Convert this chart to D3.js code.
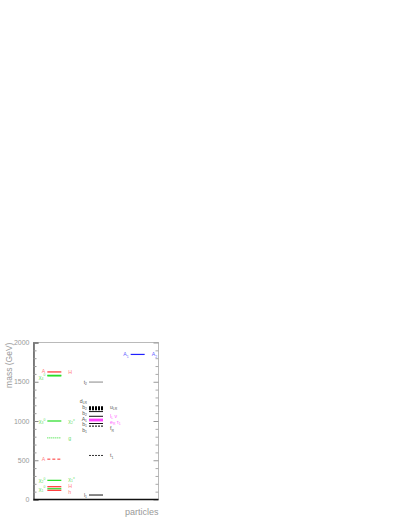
<!DOCTYPE html>
<html>
<head>
<meta charset="utf-8">
<script src="https://cdn.jsdelivr.net/npm/d3@7"></script>
<style>
  body { margin: 0; background: #fff; }
  svg { display: block; font-family: 'Liberation Sans', Arial, sans-serif; }
</style>
</head>
<body>
<div id="app"></div>
<script>
// spectrum columns: 0 = higgs / gauginos, 1 = sfermions, 2 = heavy states
const columns = [0, 0, 0, 0, 0, 0, 0, 0, 0, 0, 1, 1, 1, 1, 1, 1, 1, 1, 1, 1, 1, 2];
const masses = [1625, 1582, 1574, 1000, 785, 514, 244, 163, 137, 117,
  1496, 1175, 1152, 1120, 1060, 1022, 1003, 968, 935, 561, 57, 1848];
const kinds = ['higgs', 'gaugino', 'gaugino', 'gaugino', 'gluino', 'higgsA', 'gaugino', 'higgs', 'gaugino', 'higgs',
  'stop', 'squarkL', 'squarkL', 'squark', 'squark', 'slepton', 'slepton', 'squark', 'squarkR', 'stop1', 'squark', 'heavy'];
const leftLabels = ['A', 'χ_4^0', '', 'χ_3^0', '', 'A', 'χ_2^0', '', 'χ_1^0', '',
  't_2', 'd_LR', 'b_2', 'b_2', 'A_1', '', '', 'b_1', 'b_1', '', 'l_1', 'A_1'];
const rightLabels = ['H', '', '', 'χ_2^±', 'g', '', 'χ_1^±', 'H', '', 'h',
  '', 'u_LR', '', '', '', 'l_L ν', 'e_R τ_1', '', 'f_R', 't_1', '', 'A_2'];
const yTicks = [0, 500, 1000, 1500, 2000];

const width = 400, height = 518;
const frame = { left: 33.5, right: 158.5, top: 342.5, bottom: 499.5 };

const lineColor = {
  higgs: '#ff3030', higgsA: '#ff3030', gaugino: '#22dd22', gluino: '#22dd22',
  stop: '#888888', squarkL: '#000000', squark: '#111111', squarkR: '#000000',
  stop1: '#333333', slepton: '#ff22ff', heavy: '#2020ff'
};
const labelColor = {
  higgs: '#ff8080', higgsA: '#ff8080', gaugino: '#66dd66', gluino: '#66dd66',
  stop: '#555', squarkL: '#555', squark: '#555', squarkR: '#555',
  stop1: '#555', slepton: '#ff66ff', heavy: '#6060ff'
};
const dashOf = { higgsA: '3,2', gluino: '1,1', squarkL: '2,1', squarkR: '2,1', stop1: '2,1' };
const widthOf = { squarkL: 2.2, higgs: 1.2, gaugino: 1.2, heavy: 1.2, slepton: 1.2 };

const svg = d3.select('#app').append('svg')
  .attr('width', width).attr('height', height);

const y = d3.scaleLinear().domain([0, 2000]).range([frame.bottom, frame.top]);
const x = d3.scaleLinear().domain([0, 3]).range([frame.left, frame.right]);

// frame
svg.append('rect')
  .attr('x', frame.left).attr('y', frame.top)
  .attr('width', frame.right - frame.left).attr('height', frame.bottom - frame.top)
  .attr('fill', 'none').attr('stroke', '#aaa').attr('stroke-width', 0.8);

// left axis, ticks inside
const minor = d3.range(0, 2001, 100).filter(v => v % 500 !== 0);
const leftAxis = svg.append('g').attr('transform', `translate(${frame.left},0)`)
  .call(d3.axisRight(y).tickValues(yTicks).tickSize(5).tickFormat(''));
leftAxis.select('.domain').attr('stroke', '#666').attr('stroke-width', 1.6);
leftAxis.selectAll('.tick line').attr('stroke', '#888');
svg.append('g').attr('transform', `translate(${frame.left},0)`)
  .call(d3.axisRight(y).tickValues(minor).tickSize(3).tickFormat(''))
  .call(g => g.select('.domain').remove())
  .selectAll('.tick line').attr('stroke', '#999');

// right side ticks
svg.append('g').attr('transform', `translate(${frame.right},0)`)
  .call(d3.axisLeft(y).tickValues(yTicks).tickSize(5).tickFormat(''))
  .call(g => g.select('.domain').remove())
  .selectAll('.tick line').attr('stroke', '#999');
svg.append('g').attr('transform', `translate(${frame.right},0)`)
  .call(d3.axisLeft(y).tickValues(minor).tickSize(3).tickFormat(''))
  .call(g => g.select('.domain').remove())
  .selectAll('.tick line').attr('stroke', '#aaa');

// tick labels
svg.append('g').selectAll('text').data(yTicks).join('text')
  .attr('x', frame.left - 4).attr('y', d => y(d) + 2.5)
  .attr('text-anchor', 'end').attr('font-size', 7).attr('fill', '#999')
  .text(d => d);

// bottom line
svg.append('line')
  .attr('x1', frame.left).attr('x2', frame.right)
  .attr('y1', frame.bottom).attr('y2', frame.bottom)
  .attr('stroke', '#111').attr('stroke-width', 1.6);

// axis titles
svg.append('text')
  .attr('transform', `translate(12,${(frame.top + 388) / 2}) rotate(-90)`)
  .attr('text-anchor', 'middle').attr('font-size', 8.5).attr('fill', '#999')
  .text('mass (GeV)');
svg.append('text')
  .attr('x', frame.right).attr('y', 515)
  .attr('text-anchor', 'end').attr('font-size', 9).attr('fill', '#999')
  .text('particles');

// levels
const levels = masses.map((m, i) => ({
  m, col: columns[i], kind: kinds[i], left: leftLabels[i], right: rightLabels[i]
}));
const half = 7;

svg.append('g').selectAll('line').data(levels).join('line')
  .attr('x1', d => x(d.col + 0.5) - half)
  .attr('x2', d => x(d.col + 0.5) + half)
  .attr('y1', d => y(d.m)).attr('y2', d => y(d.m))
  .attr('stroke', d => lineColor[d.kind])
  .attr('stroke-width', d => widthOf[d.kind] || 1)
  .attr('stroke-dasharray', d => dashOf[d.kind] || null);

// labels, relaxed apart so they do not collide
function spread(items, gap) {
  items.sort((a, b) => b.m - a.m);
  items.forEach(d => { d.ly = y(d.m); });
  for (let k = 0; k < 300; k++) {
    let moved = false;
    for (let i = 1; i < items.length; i++) {
      const diff = items[i].ly - items[i - 1].ly;
      if (diff < gap - 0.01) {
        const s = (gap - diff) / 2;
        items[i].ly += s;
        items[i - 1].ly -= s;
        moved = true;
      }
    }
    if (!moved) break;
  }
  return items;
}

function addLabel(g, d, text) {
  const t = g.append('text').attr('fill', labelColor[d.kind]).attr('font-size', 5.2);
  let off = 0; // current baseline offset
  text.split(' ').forEach((word, wi) => {
    const m = word.match(/^([^_^]+)(?:_([^^]+))?(?:\^(.+))?$/);
    t.append('tspan').attr('dy', -off).text((wi > 0 ? ' ' : '') + m[1]);
    off = 0;
    if (m[2]) { t.append('tspan').attr('font-size', 3.4).attr('dy', 1.1).text(m[2]); off = 1.1; }
    if (m[3]) { t.append('tspan').attr('font-size', 3.4).attr('dy', -off - 2.4).text(m[3]); off = -2.4; }
  });
  return t;
}

const labelG = svg.append('g');
[0, 1, 2].forEach(c => {
  const lefts = spread(levels.filter(d => d.col === c && d.left), 5.8);
  lefts.forEach(d => {
    addLabel(labelG, d, d.left)
      .attr('x', x(c + 0.5) - half - 2).attr('y', d.ly + 2)
      .attr('text-anchor', 'end');
  });
  const rights = spread(levels.filter(d => d.col === c && d.right), 6.4);
  rights.forEach(d => {
    addLabel(labelG, d, d.right)
      .attr('x', x(c + 0.5) + half + 7).attr('y', d.ly + 2)
      .attr('text-anchor', 'start');
  });
});
</script>
</body>
</html>
